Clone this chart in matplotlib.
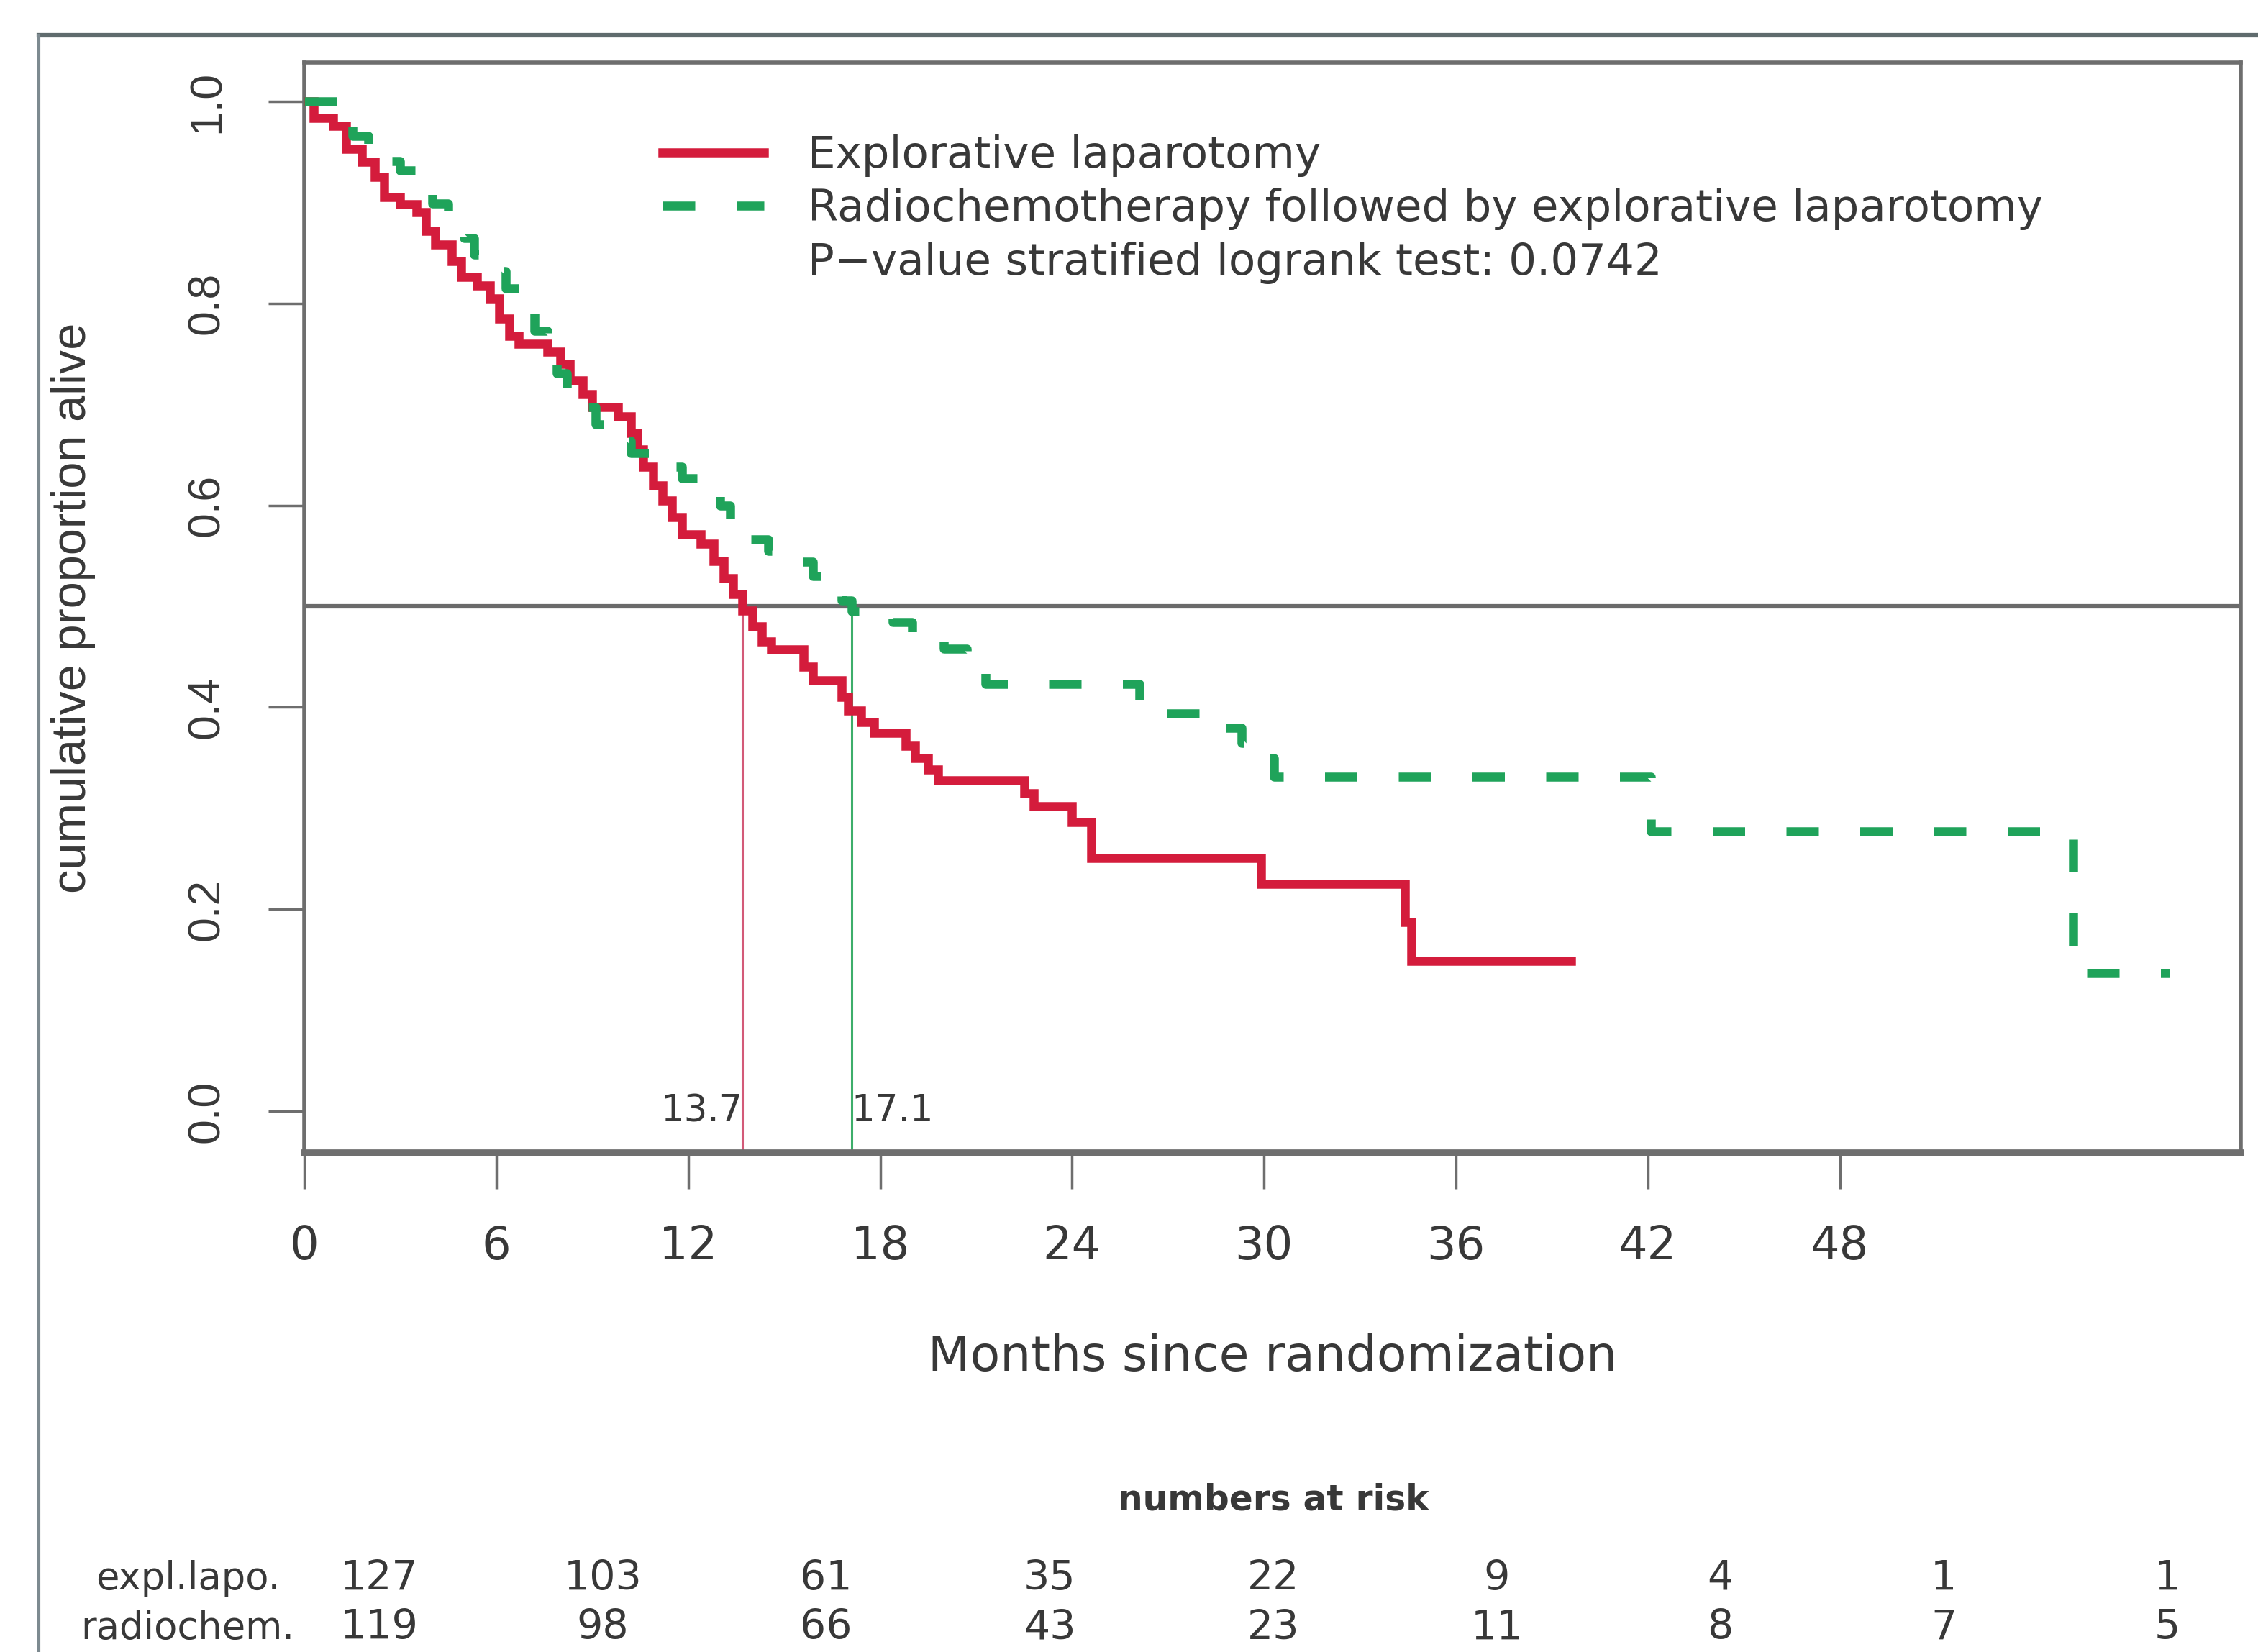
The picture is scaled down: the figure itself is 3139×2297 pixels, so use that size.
import matplotlib
matplotlib.use("Agg")
import matplotlib.pyplot as plt
from matplotlib.lines import Line2D

# ---------------- data ----------------
red_label = "Explorative laparotomy"
green_label = "Radiochemotherapy followed by explorative laparotomy"
pvalue_text = "P\u2212value stratified logrank test: 0.0742"

red_times = [0, 0.3, 0.9, 1.3, 1.8, 2.2, 2.5, 3.0, 3.5, 3.8, 4.1, 4.6, 4.9, 5.4, 5.8,
             6.1, 6.4, 6.7, 7.6, 8.0, 8.3, 8.7, 9.0, 9.8, 10.2, 10.4, 10.6, 10.9, 11.2,
             11.5, 11.8, 12.4, 12.8, 13.1, 13.4, 13.7, 14.0, 14.3, 14.6, 15.6, 15.9,
             16.8, 17.0, 17.4, 17.8, 18.8, 19.1, 19.5, 19.8, 22.5, 22.8, 24.0, 24.6,
             29.9, 34.4, 34.6, 39.6]
red_surv = [1.0, 0.984, 0.976, 0.953, 0.94, 0.925, 0.905, 0.898, 0.89, 0.872, 0.858,
            0.842, 0.826, 0.818, 0.805, 0.785, 0.768, 0.76, 0.752, 0.74, 0.724, 0.71,
            0.697, 0.688, 0.672, 0.655, 0.638, 0.62, 0.605, 0.588, 0.571, 0.562, 0.545,
            0.528, 0.512, 0.496, 0.48, 0.465, 0.457, 0.44, 0.427, 0.41, 0.397, 0.385,
            0.375, 0.362, 0.35, 0.338, 0.328, 0.315, 0.302, 0.286, 0.251, 0.225, 0.187,
            0.149, 0.149]

green_times = [0, 1.2, 1.5, 2.0, 2.5, 3.0, 3.5, 4.0, 4.5, 5.0, 5.3, 5.8, 6.3, 6.8, 7.2,
               7.6, 7.9, 8.2, 8.6, 9.1, 9.5, 10.2, 10.8, 11.8, 12.5, 13.0, 13.3, 13.6,
               14.5, 15.3, 15.9, 16.4, 16.8, 17.1, 18.4, 19.0, 20.0, 20.7, 21.3, 26.1,
               28.2, 29.3, 29.9, 30.3, 42.1, 55.3, 58.3]
green_surv = [1.0, 0.983, 0.966, 0.958, 0.941, 0.932, 0.915, 0.899, 0.882, 0.865, 0.848,
              0.832, 0.815, 0.798, 0.773, 0.756, 0.731, 0.714, 0.697, 0.68, 0.664, 0.652,
              0.638, 0.627, 0.617, 0.6, 0.583, 0.566, 0.555, 0.544, 0.53, 0.515, 0.506,
              0.495, 0.484, 0.47, 0.458, 0.44, 0.423, 0.394, 0.38, 0.365, 0.35, 0.331,
              0.277, 0.137, 0.137]

median_red = 13.7
median_green = 17.1

x_ticks = [0, 6, 12, 18, 24, 30, 36, 42, 48]
y_ticks = [0.0, 0.2, 0.4, 0.6, 0.8, 1.0]
y_ticklabels = ["0.0", "0.2", "0.4", "0.6", "0.8", "1.0"]

risk_times = [0, 6, 12, 18, 24, 30, 36, 42, 48]
risk_red = [127, 103, 61, 35, 22, 9, 4, 1, 1]
risk_green = [119, 98, 66, 43, 23, 11, 8, 7, 5]
risk_row_labels = ["expl.lapo.", "radiochem."]

# ---------------- style ----------------
RED = "#d41c3c"
GREEN = "#1fa35a"
GREY = "#6e6e6e"
TXT = "#383838"
W, H = 3139, 2297
plt.rcParams["font.family"] = ["DejaVu Sans"]

fig = plt.figure(figsize=(W / 100, H / 100), dpi=100)
fig.patch.set_facecolor("white")

# outer frame
fig.add_artist(Line2D([54 / W, 1.0], [1 - 49 / H, 1 - 49 / H], transform=fig.transFigure,
                      color="#5f6b6d", lw=4.5))
fig.add_artist(Line2D([54 / W, 54 / W], [0, 1 - 49 / H], transform=fig.transFigure,
                      color="#7d8a90", lw=3))

ax = fig.add_axes([423 / W, 1 - 1603 / H, (3115 - 423) / W, (1603 - 87) / H])
ax.set_xlim(0, 60.53)
ax.set_ylim(-0.0413, 1.0385)

ax.axhline(0.5, color="#6a6a6a", lw=4.5, zorder=1)
ax.plot([median_red, median_red], [-0.0413, 0.5], color="#d35a78", lw=2.2, zorder=2)
ax.plot([median_green, median_green], [-0.0413, 0.5], color="#3dae6a", lw=2.2, zorder=2)

l_red, = ax.step(red_times, red_surv, where="post", color=RED, lw=9, zorder=3,
                 solid_joinstyle="miter")
l_green, = ax.step(green_times, green_surv, where="post", color=GREEN, lw=9, zorder=4,
                   dashes=(3.6, 4.6))

ax.text(median_red, 0.0, f"{median_red}", ha="right", va="center", fontsize=37, color=TXT)
ax.text(median_green, 0.0, f"{median_green}", ha="left", va="center", fontsize=37, color=TXT)

for s in ["top", "left", "right"]:
    ax.spines[s].set_color(GREY)
    ax.spines[s].set_linewidth(4)
ax.spines["bottom"].set_color(GREY)
ax.spines["bottom"].set_linewidth(7)

ax.set_xticks(x_ticks)
ax.set_xticklabels([str(t) for t in x_ticks], fontsize=46, color=TXT)
ax.set_yticks(y_ticks)
ax.set_yticklabels(y_ticklabels, rotation=90, va="center", fontsize=45, color=TXT,
                   family="Liberation Sans")
ax.tick_params(axis="x", length=36, width=2.5, color=GREY, pad=35)
ax.tick_params(axis="y", length=36, width=2.5, color=GREY, pad=40)

ax.set_xlabel("Months since randomization", fontsize=49, color=TXT, va="center")
ax.xaxis.set_label_coords(0.5, -0.1873)
ax.set_ylabel("cumulative proportion alive", fontsize=48, color=TXT, va="center",
              family="Liberation Sans")
ax.yaxis.set_label_coords(-0.1192, 0.5)

blank = Line2D([], [], linestyle="none")
leg = ax.legend([l_red, l_green, blank], [red_label, green_label, pvalue_text],
                loc="upper left", bbox_to_anchor=(0.185, 0.934), frameon=False,
                fontsize=44, handlelength=2.3, handletextpad=1.0, labelspacing=0.25,
                borderpad=0, borderaxespad=0)
for t in leg.get_texts():
    t.set_color(TXT)

# numbers at risk table
ax_t = fig.add_axes([9 / W, 0, 3107.6 / W, 0.12])
ax_t.set_xlim(-10, 50)
ax_t.set_ylim(0, 1)
ax_t.axis("off")
ax_t.text(24, 0.7656, "numbers at risk", ha="center", va="center", fontsize=35,
          fontweight="bold", color=TXT)
row_y = [0.37, 0.12]
for yy, lab, vals in zip(row_y, risk_row_labels, [risk_red, risk_green]):
    ax_t.text(-5.13, yy, lab, ha="center", va="center", fontsize=38, color=TXT)
    for tt, v in zip(risk_times, vals):
        ax_t.text(tt, yy, str(v), ha="center", va="center", fontsize=41, color=TXT)

fig.savefig("out.png", dpi=100, facecolor="white")
